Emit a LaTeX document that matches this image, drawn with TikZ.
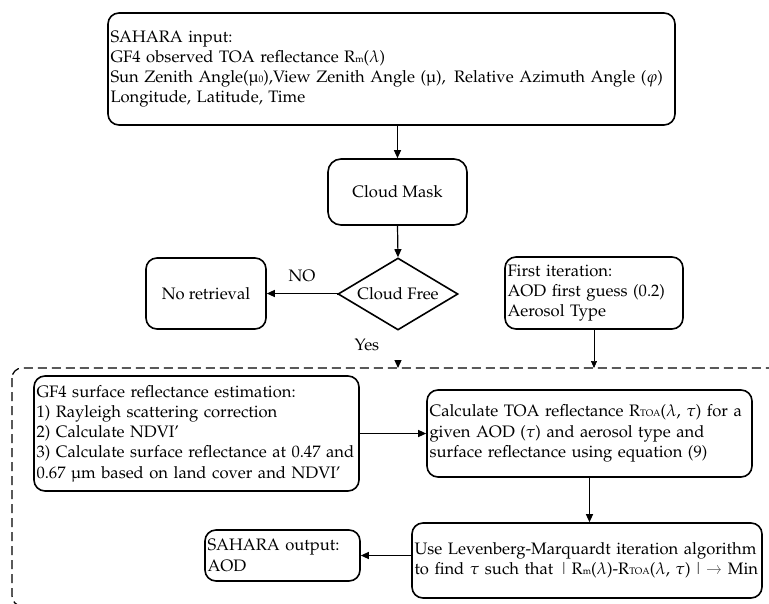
\documentclass[tikz,border=0pt]{standalone}
\usepackage[T1]{fontenc}
\usepackage{mathpazo}
\usetikzlibrary{arrows.meta,shapes.geometric,calc}
\newcommand\fs{\fontsize{16.6}{20.2}\selectfont}
\newcommand\sm[1]{{\fontsize{9.5}{10}\selectfont #1}}
\newcommand\mb[1]{\mbox{#1}}
\tikzset{
  box/.style={draw, line width=1.6pt, rounded corners=11pt, inner xsep=2.5pt, inner ysep=2pt, align=left, font=\fs},
  cbox/.style={box, align=center},
  arr/.style={line width=1.2pt, -{Triangle[length=8pt,width=7pt]}},
  thinarr/.style={line width=0.7pt, -{Triangle[length=7pt,width=6pt]}},
  dashbox/.style={line width=1.2pt, dash pattern=on 9pt off 5pt, rounded corners=10pt},
  lbl/.style={font=\fs, inner sep=0pt}
}
\begin{document}
\begin{tikzpicture}[x=1pt,y=-1pt]
\useasboundingbox (0,0) rectangle (769,603);
\clip (0,0) rectangle (769,603);
\fill[white] (0,0) rectangle (769,603);

\draw[dashbox] (12,368) rectangle (790,606);

\node[box, minimum width=567pt, minimum height=112pt, text width=562pt] (top) at (391.5,69)
 {SAHARA input:\\
  \mb{GF4 observed TOA reflectance R\sm{m}($\lambda$)}\\
  \mb{Sun Zenith Angle(\textmu\sm{0}),View Zenith Angle (\textmu),\ \,Relative Azimuth Angle ($\varphi$)}\\
  Longitude, Latitude, Time};

\node[cbox, minimum width=139pt, minimum height=66pt, rounded corners=13pt] (mask) at (397.5,192) {Cloud Mask};

\node[draw, line width=1.6pt, shape=diamond, aspect=1.67, minimum width=120pt, minimum height=72pt, inner sep=0pt, font=\fs] (free) at (398,294) {Cloud Free};

\node[cbox, minimum width=120pt, minimum height=71pt] (noret) at (206,293.5) {No retrieval};

\node[box, minimum width=178pt, minimum height=72pt, text width=173pt] (first) at (594,293)
 {First iteration:\\ \mb{AOD first guess (0.2)}\\ Aerosol Type};

\node[box, minimum width=325pt, minimum height=115pt, text width=320pt] (gf) at (196.5,433.5)
 {\mb{GF4 surface reflectance estimation:}\\
  \mb{1) Rayleigh scattering correction}\\
  \mb{2) Calculate NDVI'}\\
  \mb{3) Calculate surface reflectance at 0.47 and}\\
  \mb{0.67 \textmu m based on land cover and NDVI'}};

\node[box, minimum width=325pt, minimum height=87pt, text width=320pt] (calc) at (589.5,433.5)
 {\mb{Calculate TOA reflectance R\sm{TOA}($\lambda$, $\tau$) for a}\\
  \mb{given AOD ($\tau$) and aerosol type and}\\
  \mb{surface reflectance using equation (9)}};

\node[box, minimum width=350pt, minimum height=75pt, text width=345pt] (lev) at (587,560.5)
 {\mb{Use Levenberg-Marquardt iteration algorithm}\\
  \mb{to find $\tau$ such that \textcolor{darkgray}{\textbar}\,R\sm{m}($\lambda$)-R\sm{TOA}($\lambda$, $\tau$)\,\textcolor{darkgray}{\textbar\,\textrightarrow} Min}};

\node[box, minimum width=155pt, minimum height=51pt, text width=150pt] (out) at (282.5,555.5)
 {SAHARA output:\\ AOD};

\draw[arr] (top.south -| mask.north) -- (mask.north);
\draw[arr] (mask.south) -- (free.north);
\draw[arr] (free.west) -- (noret.east -| free.west) -- (noret.east);
\node[lbl] (no) at (302,276) {NO};
\node[lbl] (yes) at (367,345) {Yes};
\coordinate (yestip) at (398,368);
\draw[arr] ($(yestip)+(0,-6)$) -- (yestip);
\coordinate (firsttip) at (594,368);
\draw[thinarr] (first.south) -- (firsttip);
\draw[arr] (gf.east) -- (calc.west);
\draw[arr] (calc.south) -- (calc.south |- lev.north);
\draw[arr] (lev.west |- out.east) -- (out.east);
\end{tikzpicture}
\end{document}
